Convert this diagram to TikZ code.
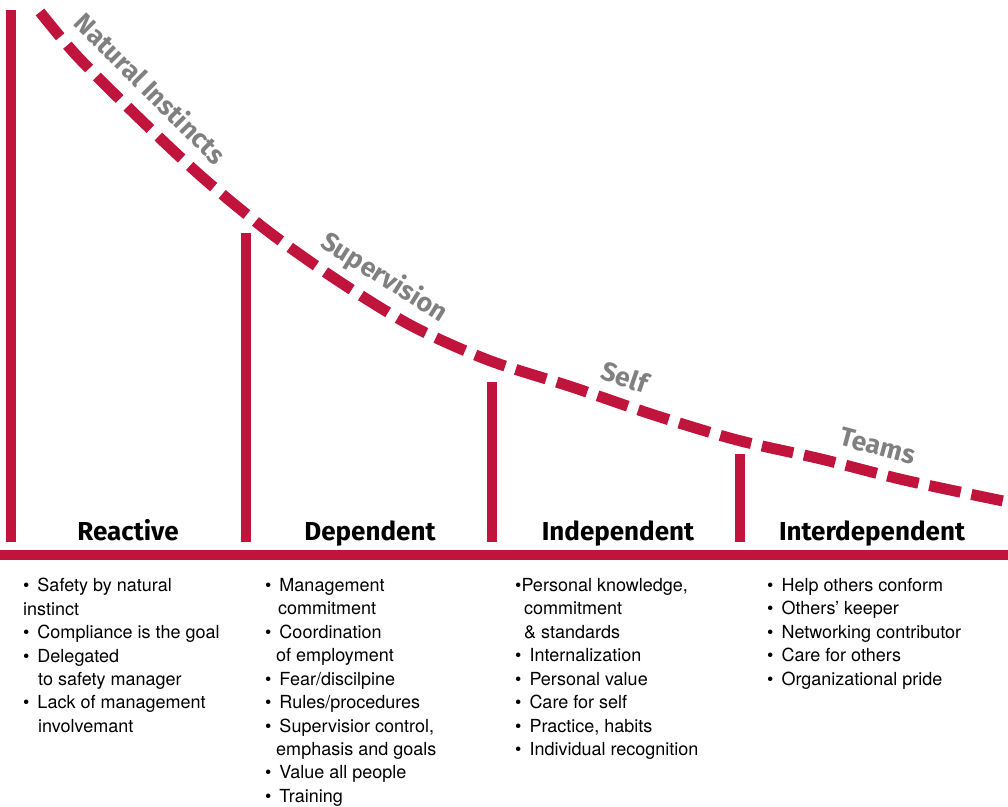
\documentclass[tikz,border=0pt]{standalone}
\usepackage{fontspec}
\setmainfont{TeX Gyre Heros}
\newfontfamily\headfont{Fira Sans}
\definecolor{levelred}{HTML}{C0143C}
\definecolor{stagegray}{HTML}{808080}
\newcommand{\bul}{\textbullet\hspace{8pt}}
\begin{document}
\begin{tikzpicture}[x=1pt,y=-1pt,
  bar/.style={draw=levelred,line width=10.5pt},
  head/.style={font=\headfont\bfseries\fontsize{26}{30}\selectfont,anchor=base,inner sep=0pt},
  stage/.style={font=\headfont\bfseries\fontsize{26.5}{30}\selectfont,text=stagegray,inner sep=0pt},
  list/.style={font=\fontsize{18}{23.45}\selectfont,align=left,anchor=north west,inner sep=0pt}]
\useasboundingbox (0,0) rectangle (1008,806);
\draw[bar] (11,10) -- (11,542);
\draw[bar] (246,233) -- (246,542);
\draw[bar] (492,382) -- (492,542);
\draw[bar] (740,454) -- (740,542);
\draw[bar] (0,555) -- (1008,555);
\draw[levelred,line width=11pt,dash pattern=on 32pt off 11pt]
  plot[smooth] coordinates {(40,12) (77,56) (139,118) (202,177) (269,232) (340,282) (412,326) (488,360) (572,387) (654,415) (737,440) (821,459) (904,480) (1008,502)};
\node[stage,rotate=-45] (s1) at (151,88) {Natural Instincts};
\node[stage,rotate=-32] (s2) at (384,278) {Supervision};
\node[stage,rotate=-19] (s3) at (625,377) {Self};
\node[stage,rotate=-15] (s4) at (878,446) {Teams};
\node[head] (h1) at (128,540) {Reactive};
\node[head] (h2) at (370,540) {Dependent};
\node[head] (h3) at (618,540) {Independent};
\node[head] (h4) at (872,540) {Interdependent};
\node[list] (l1) at (23,578) {\bul Safety by natural\\instinct\\\bul Compliance is the goal\\\bul Delegated\\\hspace*{15pt}to safety manager\\\bul Lack of management\\\hspace*{15pt}involvemant};
\node[list] (l2) at (265,578) {\bul Management\\\hspace*{13pt}commitment\\\bul Coordination\\\hspace*{11pt}of employment\\\bul Fear/discilpine\\\bul Rules/procedures\\\bul Supervisior control,\\\hspace*{11pt}emphasis and goals\\\bul Value all people\\\bul Training};
\node[list] (l3) at (515,578) {\textbullet Personal knowledge,\\\hspace*{9pt}commitment\\\hspace*{9pt}\& standards\\\bul Internalization\\\bul Personal value\\\bul Care for self\\\bul Practice, habits\\\bul Individual recognition};
\node[list] (l4) at (767,578) {\bul Help others conform\\\bul Others’ keeper\\\bul Networking contributor\\\bul Care for others\\\bul Organizational pride};
\end{tikzpicture}
\end{document}
